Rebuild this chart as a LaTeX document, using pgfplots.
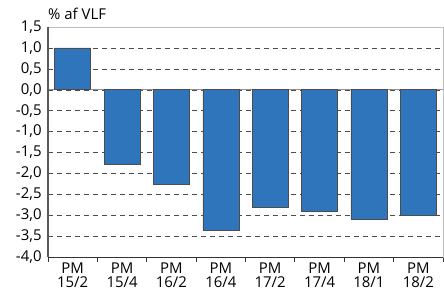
\documentclass[border=0pt]{standalone}
\usepackage{pgfplots}
\pgfplotsset{compat=1.18}
\usepackage{fontspec}
\setmainfont{Open Sans}
\definecolor{barblue}{RGB}{46,117,187}
\begin{document}
\fontsize{15}{16}\selectfont
\begin{tikzpicture}
\begin{axis}[
  scale only axis,
  width=395bp, height=230bp,
  xmin=-0.5, xmax=7.5,
  ymin=-4, ymax=1.5,
  ytick={-4,-3.5,...,1.5},
  xtick={0,...,7},
  xticklabels={{PM\\15/2},{PM\\15/4},{PM\\16/2},{PM\\16/4},{PM\\17/2},{PM\\17/4},{PM\\18/1},{PM\\18/2}},
  xticklabel style={align=center, font=\fontsize{15}{14}\selectfont, inner sep=1bp},
  yticklabel style={font=\fontsize{15}{14}\selectfont, inner sep=2bp},
  major x tick style={draw=none},
  minor xtick={-0.5,0.5,...,7.5},
  minor x tick style={draw=black!80, thick},
  minor tick length=5bp,
  xtick pos=bottom, ytick pos=left,
  y tick style={draw=none},
  tick align=outside,
  ymajorgrids,
  grid style={dashed, draw=black!70, dash pattern=on 5bp off 4bp},
  extra y ticks={0},
  extra y tick labels={},
  extra y tick style={grid style={solid, draw=gray!85, line width=1pt}},
  axis line style={draw=gray!50},
  clip=false,
  /pgf/number format/.cd, fixed, fixed zerofill, precision=1, use comma, assume math mode=true,
]
\addplot[ybar, bar width=36bp, fill=barblue, draw=black!70, line width=0.6pt] coordinates {
  (0,1.0) (1,-1.78) (2,-2.27) (3,-3.37) (4,-2.8) (5,-2.9) (6,-3.09) (7,-3.0)
};
\draw[black!65, line width=1.4pt] (rel axis cs:0,0) -- (rel axis cs:0,1);
\draw[black!80, line width=0.8pt] (rel axis cs:0,0) -- (rel axis cs:1,0);
\coordinate (ll) at (rel axis cs:0,0);
\coordinate (ur) at (rel axis cs:1,1);
\node[anchor=base west, inner sep=0pt, font=\fontsize{15}{16}\selectfont] at ([yshift=7bp]rel axis cs:0,1) {\% af VLF};
\end{axis}
\pgfresetboundingbox
\path ([xshift=-48bp,yshift=-37bp]ll) rectangle ([xshift=1bp,yshift=27bp]ur);
\end{tikzpicture}
\end{document}
